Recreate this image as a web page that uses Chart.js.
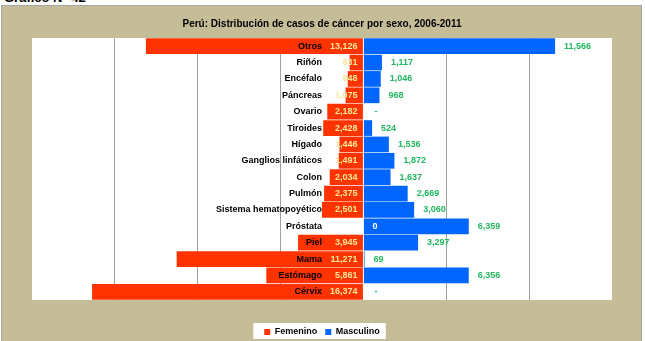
<!DOCTYPE html>
<html>
<head>
<meta charset="utf-8">
<script src="https://cdn.jsdelivr.net/npm/chart.js@4/dist/chart.umd.min.js"></script>
<style>
  body { margin: 0; background: #fff; overflow: hidden; }
  #top { position: absolute; left: 4px; top: -10.5px; font: bold 13px 'Liberation Sans', Arial, sans-serif; color: #000; }
  #frame { position: absolute; left: 1px; top: 5px; width: 641px; height: 340px; background: #C4BD97; border: 1px solid #A6A6A6; border-bottom: none; box-sizing: border-box; }
  canvas { position: absolute; left: 0; top: 0; }
</style>
</head>
<body>
<div id="top">Gráfico N° 42</div>
<div id="frame"></div>
<canvas id="chart" width="645" height="341"></canvas>
<script>
const categories = ['Otros', 'Riñón', 'Encéfalo', 'Páncreas', 'Ovario', 'Tiroides', 'Hígado', 'Ganglios linfáticos',
    'Colon', 'Pulmón', 'Sistema hematopoyético', 'Próstata', 'Piel', 'Mama', 'Estómago', 'Cérvix'];
const femenino = [13126, 831, 948, 1075, 2182, 2428, 1446, 1491, 2034, 2375, 2501, 0, 3945, 11271, 5861, 16374];
const masculino = [11566, 1117, 1046, 968, 0, 524, 1536, 1872, 1637, 2669, 3060, 6359, 3297, 69, 6356, 0];
const xMin = -20000, xMax = 15000, xStep = 5000;

const FONT = "'Liberation Sans', Arial, sans-serif";
const fmt = v => v.toLocaleString('en-US');

// white plot area and white legend box
const backdrop = {
    id: 'backdrop',
    beforeDraw(chart) {
        const {ctx, chartArea: a, legend} = chart;
        ctx.save();
        ctx.fillStyle = '#fff';
        ctx.fillRect(a.left, a.top, a.right - a.left, a.bottom - a.top);
        const hb = legend.legendHitBoxes;
        if (hb && hb.length) {
            const l = Math.min(...hb.map(b => b.left)) - 11;
            const r = Math.max(...hb.map(b => b.left + b.width)) + 6;
            ctx.fillRect(l, 323, r - l, 16);
        }
        ctx.restore();
    }
};

// value labels next to the bars
const valueLabels = {
    id: 'valueLabels',
    afterDraw(chart) {
        const {ctx} = chart;
        const zero = chart.scales.x.getPixelForValue(0);
        ctx.save();
        ctx.font = 'bold 9px ' + FONT;
        ctx.textBaseline = 'middle';
        chart.getDatasetMeta(0).data.forEach((el, i) => {
            const v = femenino[i];
            if (v === 0) {
                ctx.fillStyle = '#fff';
                ctx.textAlign = 'left';
                ctx.fillText('0', zero + 9, el.y);
            } else {
                ctx.fillStyle = '#FFE699';
                ctx.textAlign = 'right';
                ctx.fillText(fmt(v), zero - 6, el.y);
            }
        });
        chart.getDatasetMeta(1).data.forEach((el, i) => {
            const v = masculino[i];
            ctx.fillStyle = '#22B860';
            ctx.textAlign = 'left';
            ctx.fillText(v === 0 ? '-' : fmt(v), (v === 0 ? zero + 2 : el.x) + 9, el.y);
        });
        ctx.restore();
    }
};

new Chart(document.getElementById('chart'), {
    type: 'bar',
    data: {
        labels: categories,
        datasets: [{
            label: 'Femenino',
            data: femenino.map(v => -v),
            backgroundColor: '#FF3300',
            barPercentage: 0.96,
            categoryPercentage: 1
        }, {
            label: 'Masculino',
            data: masculino,
            backgroundColor: '#0066FF',
            barPercentage: 0.96,
            categoryPercentage: 1
        }]
    },
    options: {
        indexAxis: 'y',
        responsive: false,
        animation: false,
        layout: { padding: { left: 32, right: 33, top: 18, bottom: -5.5 } },
        scales: {
            x: {
                stacked: true,
                min: xMin,
                max: xMax,
                ticks: { display: false, stepSize: xStep },
                border: { display: false },
                grid: {
                    drawTicks: true,
                    tickLength: 19.5,
                    tickColor: 'rgba(0,0,0,0)',
                    color: c => [xMin, 0, xMax].includes(c.tick.value) ? 'rgba(0,0,0,0)' : '#A0A0A0',
                    lineWidth: 1
                }
            },
            y: {
                stacked: true,
                position: 'right',
                border: { display: false },
                grid: { display: false, drawTicks: false },
                afterFit: s => { s.width = 0; s.paddingTop = 0; s.paddingBottom = 0; },
                ticks: {
                    mirror: true,
                    padding: -290,
                    z: 1,
                    color: '#000',
                    font: { family: FONT, size: 9, weight: 'bold' }
                }
            }
        },
        plugins: {
            title: {
                display: true,
                text: 'Perú: Distribución de casos de cáncer por sexo, 2006-2011',
                color: '#000',
                font: { family: FONT, size: 10, weight: 'bold' },
                padding: { top: 0, bottom: 8 }
            },
            legend: {
                position: 'bottom',
                labels: {
                    boxWidth: 6,
                    boxHeight: 6,
                    padding: 8,
                    color: '#000',
                    font: { family: FONT, size: 9, weight: 'bold' }
                }
            },
            tooltip: { enabled: false }
        }
    },
    plugins: [backdrop, valueLabels]
});
</script>
</body>
</html>
